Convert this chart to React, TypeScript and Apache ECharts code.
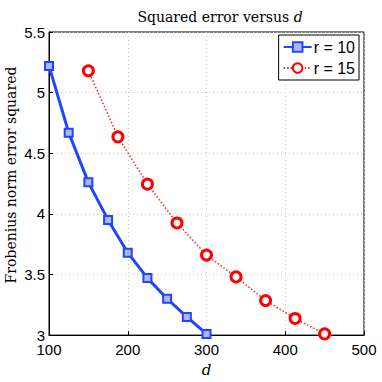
import React, { useEffect, useRef } from "react";
import * as echarts from "echarts";

const dR10: number[] = [100, 125, 150, 175, 200, 225, 250, 275, 300];
const errR10: number[] = [5.22, 4.67, 4.26, 3.95, 3.68, 3.47, 3.30, 3.15, 3.01];
const dR15: number[] = [150, 187.5, 225, 262.5, 300, 337.5, 375, 412.5, 450];
const errR15: number[] = [5.18, 4.635, 4.245, 3.925, 3.66, 3.48, 3.285, 3.137, 3.01];

const SERIF = "'DejaVu Serif', 'Liberation Serif', serif";
const SANS = "'Liberation Sans', Arial, sans-serif";

export default function App() {
  const ref = useRef<HTMLDivElement>(null);
  useEffect(() => {
    if (!ref.current) return;
    const chart = echarts.init(ref.current, undefined, { renderer: "svg" });
    chart.setOption({
      animation: false,
      backgroundColor: "#ffffff",
      title: {
        text: "{n|Squared error versus }{i|d}",
        left: 215,
        textAlign: "center",
        top: 5,
        textStyle: {
          fontWeight: "normal",
          rich: {
            n: { fontFamily: SERIF, fontSize: 14, fontWeight: "normal", color: "#000" },
            i: { fontFamily: SERIF, fontSize: 14, fontWeight: "normal", fontStyle: "italic", color: "#000" },
          },
        },
      },
      graphic: [
        {
          type: "text",
          x: 11,
          y: 175,
          rotation: Math.PI / 2,
          style: {
            text: "Frobenius norm error squared",
            fontFamily: SERIF,
            fontSize: 14,
            fill: "#000",
            align: "center",
            verticalAlign: "middle",
          },
        },
      ],
      legend: {
        right: 23,
        top: 35,
        orient: "vertical",
        backgroundColor: "#fff",
        borderColor: "#000",
        borderWidth: 1,
        borderRadius: 0,
        padding: [4, 4, 4, 4],
        itemGap: 5,
        itemWidth: 28,
        itemHeight: 12,
        textStyle: { fontFamily: SANS, fontSize: 16, color: "#000", padding: [0, 0, 0, -3] },
        data: ["r = 10", "r = 15"],
      },
      grid: { left: 49, right: 18, top: 32, bottom: 39, show: true, borderColor: "#000", borderWidth: 1 },
      xAxis: {
        type: "value",
        min: 100,
        max: 500,
        interval: 100,
        name: "d",
        nameLocation: "middle",
        nameGap: 24,
        nameTextStyle: { fontFamily: SERIF, fontStyle: "italic", fontSize: 15, color: "#000" },
        axisLine: { show: true, lineStyle: { color: "#000" } },
        axisTick: { show: true, inside: true, length: 4, lineStyle: { color: "#000" } },
        axisLabel: { fontFamily: SANS, fontSize: 15, color: "#000", margin: 7 },
        splitLine: { show: true, lineStyle: { color: "#c8c8c8", type: [1, 3] } },
      },
      yAxis: {
        type: "value",
        min: 3,
        max: 5.5,
        interval: 0.5,
        axisLine: { show: true, lineStyle: { color: "#000" } },
        axisTick: { show: true, inside: true, length: 4, lineStyle: { color: "#000" } },
        axisLabel: { fontFamily: SANS, fontSize: 15, color: "#000", margin: 4 },
        splitLine: { show: true, lineStyle: { color: "#c8c8c8", type: [1, 3] } },
      },
      series: [
        {
          name: "r = 10",
          type: "line",
          data: dR10.map((d, i) => [d, errR10[i]]),
          symbol: "rect",
          symbolSize: 8,
          lineStyle: { color: "#2244ff", width: 3 },
          itemStyle: { color: "#aab8ff", borderColor: "#2244ff", borderWidth: 2 },
          z: 3,
        },
        {
          name: "r = 15",
          type: "line",
          data: dR15.map((d, i) => [d, errR15[i]]),
          symbol: "circle",
          symbolSize: 10,
          lineStyle: { color: "#ff2020", width: 1.5, type: [1.5, 2] },
          itemStyle: { color: "#ffffff", borderColor: "#ff0000", borderWidth: 3 },
          z: 2,
        },
      ],
    });
    return () => chart.dispose();
  }, []);
  return (
    <div
      ref={ref}
      style={{ position: "absolute", left: 0, top: 0, width: 382, height: 382 }}
    />
  );
}
